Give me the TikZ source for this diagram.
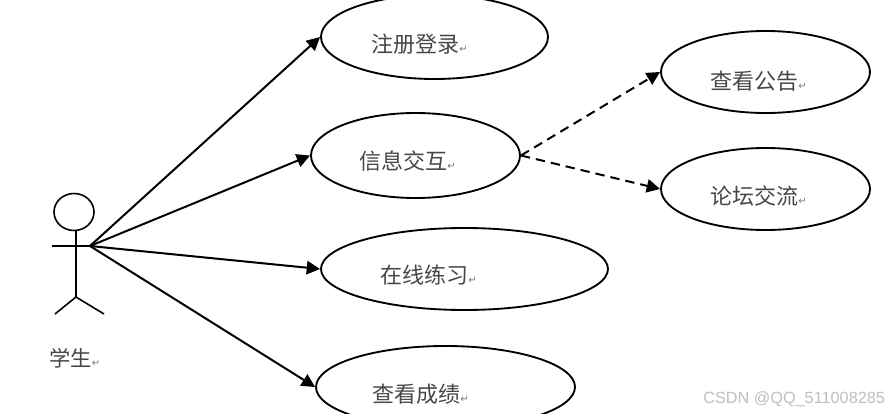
\documentclass[tikz,border=0pt]{standalone}
\usepackage{fontspec}
\usetikzlibrary{shapes.geometric,arrows.meta}
\newfontfamily\cjk{Noto Sans CJK SC}[Scale=1.0]
\newfontfamily\symf{DejaVu Sans}
\newfontfamily\wm{Liberation Sans}
\definecolor{labelgray}{RGB}{70,70,70}
\definecolor{markgray}{RGB}{120,120,120}
\definecolor{wmgray}{RGB}{190,190,190}
\newcommand{\retmark}{{\symf\fontsize{7.5}{7.5}\selectfont\textcolor{markgray}{↵}}}
\tikzset{
  x=0.75pt,y=-0.75pt,
  usecase/.style={draw=black,line width=1.4pt,ellipse,inner sep=0pt,minimum width=#1},
  uctext/.style={anchor=west,inner sep=0pt,text=labelgray,font=\cjk\fontsize{16.5}{18}\selectfont},
  assoc/.style={draw=black,line width=1.5pt,-{Triangle[length=10pt,width=10pt]}},
  dep/.style={assoc,dash pattern=on 7pt off 4.5pt},
  stick/.style={draw=black,line width=1.2pt},
}
\begin{document}
\begin{tikzpicture}
\useasboundingbox (0,0) rectangle (890,414);
\clip (0,0) rectangle (890,414);
\node[usecase=170.25pt,minimum height=63pt] (reg) at (434.5,37) {};
\node[usecase=156.75pt,minimum height=63.75pt] (info) at (415.5,155.5) {};
\node[usecase=215.25pt,minimum height=61.5pt] (prac) at (464.5,269) {};
\node[usecase=194.25pt,minimum height=61.5pt] (score) at (445.5,387) {};
\node[usecase=156.75pt,minimum height=61.5pt] (notice) at (765.5,72) {};
\node[usecase=156.75pt,minimum height=61.5pt] (forum) at (765.5,189) {};
\node[uctext] (regt) at (371,44) {注册登录\retmark};
\node[uctext] (infot) at (359,161) {信息交互\retmark};
\node[uctext] (pract) at (380,275) {在线练习\retmark};
\node[uctext] (scoret) at (372,394) {查看成绩\retmark};
\node[uctext] (noticet) at (710,81) {查看公告\retmark};
\node[uctext] (forumt) at (710,196) {论坛交流\retmark};
\node[uctext,font=\cjk\fontsize{16}{18}\selectfont] (stu) at (49,358) {学生\retmark};
\node[draw=black,line width=1.2pt,ellipse,inner sep=0pt,minimum width=30pt,minimum height=27.75pt] (head) at (74,212) {};
\coordinate (hip) at (76,297);
\coordinate (armL) at (52,246);
\coordinate (hand) at (90,246);
\coordinate (neck) at (76,230.5);
\coordinate (footL) at (55,314);
\coordinate (footR) at (104,314);
\draw[stick] (neck) -- (hip);
\draw[stick] (armL) -- (hand);
\draw[stick] (footL) -- (hip) -- (footR);
\draw[assoc] (hand) -- (reg.west);
\draw[assoc] (hand) -- (info.west);
\draw[assoc] (hand) -- (prac.west);
\draw[assoc] (hand) -- (score.west);
\draw[dep] (info.east) -- (notice.west);
\draw[dep] (info.east) -- (forum.west);
\node[anchor=west,inner sep=0pt,text=wmgray,font=\wm\fontsize{12.2}{14}\selectfont] (mark) at (703,399) {CSDN @QQ\_511008285};
\end{tikzpicture}
\end{document}
